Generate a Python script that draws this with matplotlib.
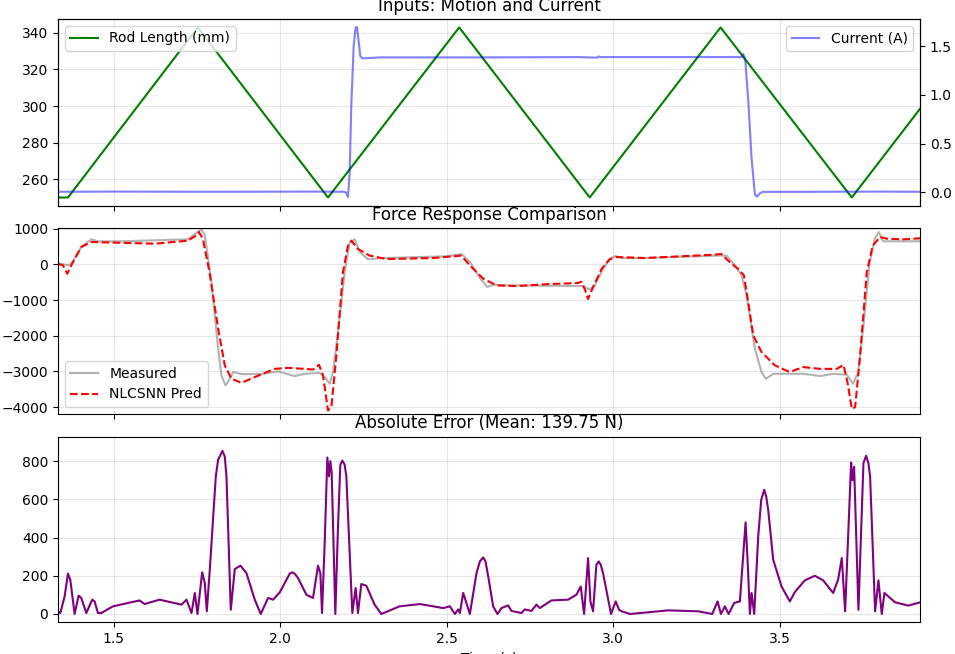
import numpy as np
import matplotlib
matplotlib.use('Agg')
import matplotlib.pyplot as plt

# data
t_rod = [1.332, 1.362, 1.752, 2.143, 2.537, 2.929, 3.322, 3.716, 3.921]
rod = [250, 250, 343, 250, 343, 250, 343, 250, 298.5]

t_cur = [1.332, 1.50, 1.80, 2.10, 2.190, 2.197, 2.203, 2.208, 2.213, 2.220, 2.226, 2.230,
         2.235, 2.240, 2.246, 2.30, 2.60, 2.90, 2.950, 2.955, 2.960, 3.20, 3.385,
         3.390, 3.396, 3.405, 3.415, 3.425, 3.431, 3.440, 3.449, 3.60, 3.80, 3.921]
cur = [0.006, 0.008, 0.006, 0.008, 0.006, 0.0, -0.048, 0.2, 0.9, 1.50, 1.69, 1.697,
       1.55, 1.40, 1.375, 1.385, 1.385, 1.388, 1.382, 1.395, 1.388, 1.388, 1.388,
       1.42, 1.36, 0.95, 0.35, -0.02, -0.045, -0.01, 0.005, 0.006, 0.008, 0.006]

t_meas = [1.332, 1.362, 1.372, 1.402, 1.432, 1.452, 1.522, 1.722, 1.752, 1.763, 1.773,
          1.793, 1.813, 1.823, 1.835, 1.848, 1.858, 1.883, 1.943, 1.993, 2.043, 2.073,
          2.118, 2.133, 2.148, 2.158, 2.173, 2.193, 2.208, 2.223, 2.238, 2.263, 2.308,
          2.499, 2.544, 2.569, 2.599, 2.621, 2.639, 2.679, 2.809, 2.904, 2.929, 2.944,
          2.969, 2.989, 3.006, 3.024, 3.095, 3.315, 3.340, 3.365, 3.385, 3.400, 3.425,
          3.445, 3.458, 3.480, 3.570, 3.621, 3.661, 3.701, 3.720, 3.735, 3.750, 3.770,
          3.785, 3.797, 3.810, 3.921]
meas = [36, -28, 17, 485, 700, 644, 644, 700, 905, 980, 812,
        -496, -2364, -3109, -3389, -3204, -3017, -3073, -3073, -2997, -3129, -3064,
        -3040, -3157, -3345, -3017, -1896, -216, 605, 700, 345, 140, 176,
        224, 289, 64, -384, -636, -571, -590, -600, -608, -701, -589,
        -124, 156, 232, 176, 176, 243, 243, -28, -308, -868, -2364,
        -3017, -3204, -3064, -3064, -3129, -3064, -3092, -3345, -3017, -1803, 64,
        717, 905, 644, 644]

t_pred = [1.332, 1.347, 1.360, 1.372, 1.402, 1.432, 1.622, 1.722, 1.748, 1.755, 1.767,
          1.787, 1.813, 1.833, 1.853, 1.883, 1.923, 1.983, 2.023, 2.073, 2.098, 2.116,
          2.128, 2.143, 2.153, 2.168, 2.188, 2.203, 2.213, 2.233, 2.268, 2.319, 2.459,
          2.543, 2.569, 2.609, 2.649, 2.709, 2.809, 2.894, 2.904, 2.914, 2.924, 2.939,
          2.965, 2.989, 3.010, 3.095, 3.305, 3.324, 3.349, 3.374, 3.392, 3.405, 3.420,
          3.445, 3.485, 3.525, 3.535, 3.570, 3.621, 3.671, 3.691, 3.703, 3.716, 3.726,
          3.741, 3.761, 3.779, 3.801, 3.821, 3.871, 3.921]
pred = [8, -28, -263, -28, 485, 625, 577, 661, 812, 905, 717,
        -216, -1803, -2829, -3204, -3317, -3157, -2927, -2899, -2927, -2946, -2815,
        -3109, -4092, -4000, -2560, -216, 523, 663, 428, 243, 148, 176,
        243, -28, -403, -590, -608, -552, -524, -486, -692, -971, -636,
        -124, 140, 204, 176, 271, 289, 64, -124, -308, -1056, -1989,
        -2457, -2829, -2997, -2997, -2877, -2927, -2927, -2815, -3297, -4045, -4000,
        -2560, -216, 523, 765, 717, 700, 728]

t_err = [1.332, 1.339, 1.352, 1.362, 1.369, 1.382, 1.394, 1.402, 1.417, 1.435, 1.442,
         1.452, 1.462, 1.497, 1.577, 1.592, 1.637, 1.703, 1.718, 1.733, 1.743, 1.751,
         1.765, 1.773, 1.779, 1.788, 1.806, 1.813, 1.826, 1.833, 1.838, 1.851, 1.863,
         1.880, 1.898, 1.923, 1.941, 1.963, 1.978, 1.998, 2.028, 2.035, 2.043, 2.053,
         2.078, 2.098, 2.113, 2.120, 2.125, 2.133, 2.141, 2.146, 2.150, 2.154, 2.165,
         2.173, 2.180, 2.186, 2.193, 2.198, 2.216, 2.226, 2.233, 2.243, 2.258, 2.283,
         2.303, 2.358, 2.419, 2.489, 2.509, 2.524, 2.534, 2.539, 2.549, 2.569, 2.589,
         2.599, 2.609, 2.616, 2.624, 2.639, 2.652, 2.664, 2.684, 2.694, 2.724, 2.734,
         2.754, 2.769, 2.779, 2.814, 2.864, 2.889, 2.902, 2.912, 2.924, 2.931, 2.939,
         2.949, 2.956, 2.962, 2.969, 2.993, 3.007, 3.017, 3.025, 3.050, 3.165, 3.255,
         3.297, 3.313, 3.323, 3.335, 3.346, 3.363, 3.380, 3.397, 3.403, 3.410, 3.415,
         3.423, 3.435, 3.444, 3.453, 3.459, 3.465, 3.480, 3.505, 3.530, 3.545, 3.575,
         3.605, 3.630, 3.660, 3.675, 3.686, 3.696, 3.714, 3.718, 3.723, 3.736, 3.751,
         3.759, 3.766, 3.771, 3.786, 3.796, 3.806, 3.814, 3.846, 3.886, 3.921]
err = [14, 5, 92, 211, 179, 0, 96, 84, 5, 75, 66,
       5, 5, 40, 71, 52, 75, 49, 75, 5, 110, 0,
       218, 161, 14, 232, 720, 807, 854, 824, 720, 22, 235,
       253, 214, 75, 0, 84, 75, 113, 211, 218, 211, 188,
       101, 84, 253, 214, 5, 371, 819, 720, 800, 740, 0,
       458, 781, 803, 781, 720, 5, 136, 5, 157, 148, 49,
       0, 40, 52, 31, 40, 0, 24, 5, 110, 0, 214,
       275, 296, 275, 198, 40, 0, 31, 45, 16, 5, 24,
       16, 49, 31, 71, 75, 101, 144, 0, 293, 66, 14,
       258, 275, 258, 214, 0, 66, 22, 14, 0, 19, 14,
       0, 66, 0, 40, 0, 58, 66, 479, 282, 0, 110,
       0, 406, 598, 650, 615, 545, 284, 144, 66, 115, 176,
       200, 176, 110, 180, 293, 14, 793, 700, 770, 22, 789,
       828, 789, 720, 14, 176, 0, 110, 61, 44, 61]

mean_err = 139.75

#plot
fig = plt.figure(figsize=(9.55, 6.54), dpi=100)
ax1 = fig.add_axes([0.0607, 0.685, 0.9027, 0.2861])
ax2 = fig.add_axes([0.0607, 0.367, 0.9027, 0.2844], sharex=ax1)
ax3 = fig.add_axes([0.0607, 0.0489, 0.9027, 0.2834], sharex=ax1)

ax1.plot(t_rod, rod, color='green', label='Rod Length (mm)')
ax1.set_title('Inputs: Motion and Current')
ax1.legend(loc='upper left')
ax1.grid(True, alpha=0.3)
ax1b = ax1.twinx()
ax1b.plot(t_cur, cur, color='blue', alpha=0.5, label='Current (A)')
ax1b.set_ylim(-0.14, 1.78)
ax1b.legend(loc='upper right')
plt.setp(ax1.get_xticklabels(), visible=False)

ax2.plot(t_meas, meas, color='gray', alpha=0.6, label='Measured')
ax2.plot(t_pred, pred, 'r--', label='NLCSNN Pred')
ax2.set_title('Force Response Comparison')
ax2.set_ylim(-4190, 1017)
ax2.legend(loc='lower left')
ax2.grid(True, alpha=0.3)
plt.setp(ax2.get_xticklabels(), visible=False)

ax3.plot(t_err, err, color='purple')
ax3.set_title('Absolute Error (Mean: %.2f N)' % mean_err)
ax3.set_ylim(-42, 928)
ax3.set_xlabel('Time (s)')
ax3.grid(True, alpha=0.3)
ax3.set_xlim(1.332, 3.921)

fig.savefig('out.png', dpi=100)
